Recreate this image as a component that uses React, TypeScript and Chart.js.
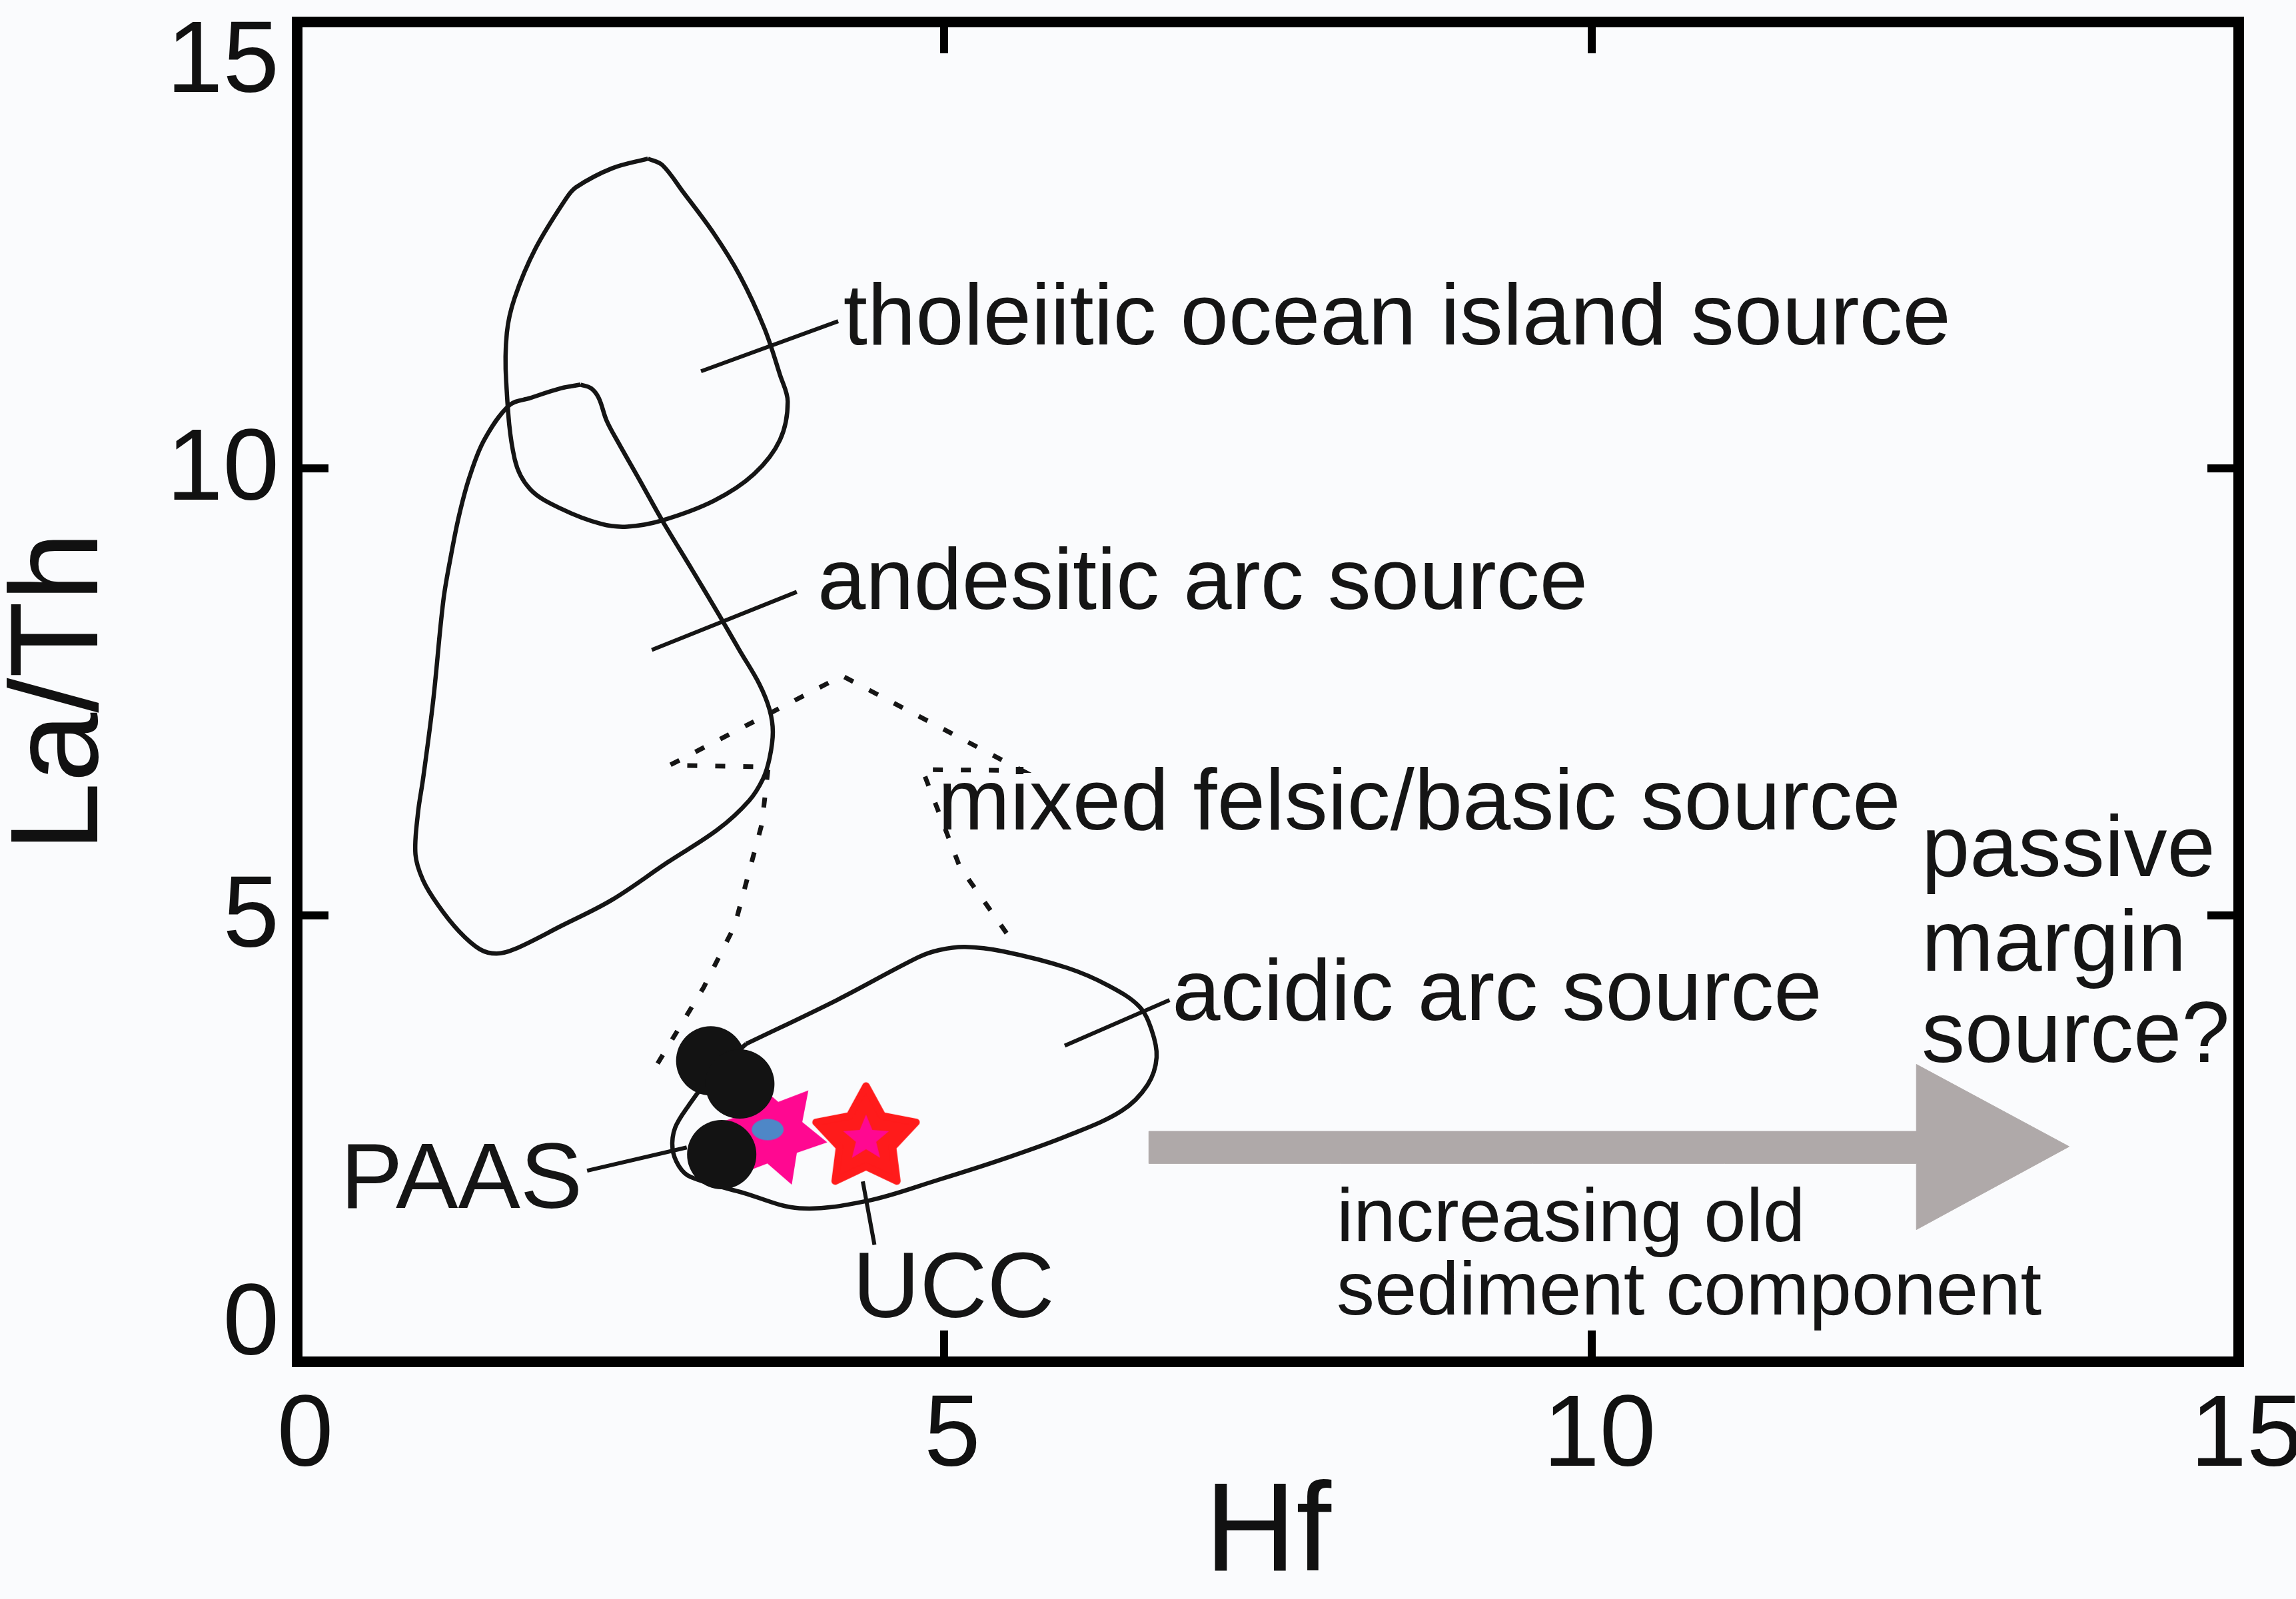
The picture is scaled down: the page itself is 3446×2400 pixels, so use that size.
import React, { useEffect, useRef } from 'react';
import { Chart, registerables } from 'chart.js';

Chart.register(...registerables);

// ---------------- DATA (Hf, La/Th) ----------------
const hfTicks = [0, 5, 10, 15];
const laThTicks = [0, 5, 10, 15];

// tholeiitic ocean island source field
const tholeiiticHf = [2.71, 2.43, 2.155, 2.076, 1.84, 1.68, 1.62, 1.615, 1.68, 1.80, 2.04, 2.35, 2.55, 2.82, 3.22, 3.53, 3.73, 3.79, 3.73, 3.61, 3.42, 3.22, 2.98, 2.82, 2.71];
const tholeiiticLaTh = [13.47, 13.36, 13.15, 13.02, 12.46, 11.91, 11.52, 10.97, 10.11, 9.77, 9.55, 9.38, 9.35, 9.42, 9.64, 9.94, 10.32, 10.75, 11.05, 11.57, 12.16, 12.63, 13.10, 13.40, 13.47];

// andesitic arc source field
const andesiticHf = [2.19, 2.27, 2.33, 2.39, 2.47, 2.65, 2.82, 3.05, 3.26, 3.42, 3.57, 3.65, 3.675, 3.65, 3.60, 3.49, 3.25, 2.86, 2.43, 2.04, 1.68, 1.54, 1.41, 1.25, 1.09, 0.973, 0.914, 0.933, 0.973, 1.05, 1.13, 1.19, 1.25, 1.33, 1.445, 1.64, 1.80, 2.04, 2.19];
const andesiticLaTh = [10.94, 10.90, 10.79, 10.54, 10.32, 9.86, 9.42, 8.87, 8.36, 7.96, 7.59, 7.30, 7.05, 6.76, 6.53, 6.28, 5.96, 5.59, 5.17, 4.88, 4.62, 4.57, 4.62, 4.82, 5.11, 5.39, 5.68, 6.14, 6.53, 7.39, 8.53, 9.04, 9.47, 9.90, 10.32, 10.71, 10.79, 10.90, 10.94];

// acidic arc source field
const acidicHf = [3.47, 4.17, 4.80, 4.96, 5.16, 5.455, 5.95, 6.27, 6.505, 6.60, 6.64, 6.57, 6.37, 5.95, 5.455, 4.96, 4.40, 3.88, 3.45, 3.04, 2.95, 2.90, 2.92, 3.02, 3.20, 3.47];
const acidicLaTh = [3.56, 4.05, 4.53, 4.61, 4.645, 4.595, 4.41, 4.21, 3.98, 3.72, 3.41, 3.10, 2.81, 2.53, 2.27, 2.04, 1.80, 1.72, 1.89, 2.07, 2.19, 2.39, 2.62, 2.86, 3.20, 3.56];

// mixed felsic/basic source (dashed)
const mixedHf = [2.785, 3.14, 3.38, 3.59, 3.64, 2.88, 4.21, 5.60, 4.83, 5.12, 5.49];
const mixedLaTh = [3.34, 4.19, 4.88, 6.02, 6.66, 6.68, 7.68, 6.62, 6.63, 5.54, 4.78];

// leader lines: start / end
const leaderStartHf = [3.12, 2.74, 5.93, 2.24, 4.37];
const leaderStartLaTh = [11.09, 7.97, 3.54, 2.14, 2.02];
const leaderEndHf = [4.18, 3.86, 6.74, 3.01, 4.46];
const leaderEndLaTh = [11.65, 8.62, 4.05, 2.40, 1.31];

// "increasing old sediment component" arrow outline
const arrowHf = [6.58, 12.51, 12.51, 13.69, 12.51, 12.51, 6.58, 6.58];
const arrowLaTh = [2.58, 2.58, 3.33, 2.41, 1.48, 2.22, 2.22, 2.58];

// samples
const blackSampleHf = [3.195, 3.42, 3.28];
const blackSampleLaTh = [3.37, 3.11, 2.32];
const pinkStarHf = [3.675];
const pinkStarLaTh = [2.565];
const blueSampleHf = [3.635];
const blueSampleLaTh = [2.60];
const uccHf = [4.395];
const uccLaTh = [2.515];

// annotations (left x, baseline y in data units)
const noteText = ['tholeiitic ocean island source', 'andesitic arc source', 'mixed felsic/basic source', 'acidic arc source', 'passive', 'margin', 'source?', 'PAAS', 'UCC', 'increasing old', 'sediment component'];
const noteHf = [4.22, 4.02, 4.95, 6.76, 12.55, 12.55, 12.55, 0.335, 4.29, 8.03, 8.03];
const noteLaTh = [11.39, 8.43, 5.96, 3.83, 5.44, 4.38, 3.36, 1.72, 0.50, 1.35, 0.53];

// ---------------- STYLE ----------------
const FONT = "'Liberation Sans', Arial, Helvetica, sans-serif";
const INK = '#151515';
const noteFontPx = [130, 130, 130, 130, 130, 130, 130, 140, 140, 114, 114];

const pts = (xs: number[], ys: number[]) => xs.map((x, i) => ({ x, y: ys[i] }));

function starPath(ctx: CanvasRenderingContext2D, cx: number, cy: number, n: number, R: number, r: number, rot: number) {
  ctx.beginPath();
  for (let i = 0; i < 2 * n; i++) {
    const rad = i % 2 === 0 ? R : r;
    const a = rot + (i * Math.PI) / n;
    const px = cx + rad * Math.cos(a);
    const py = cy + rad * Math.sin(a);
    if (i === 0) ctx.moveTo(px, py);
    else ctx.lineTo(px, py);
  }
  ctx.closePath();
}

function makePinkStar() {
  const c = document.createElement('canvas');
  c.width = 172; c.height = 172;
  const ctx = c.getContext('2d')!;
  starPath(ctx, 86, 86, 6, 83, 47, (-50 * Math.PI) / 180);
  ctx.fillStyle = '#FF0891';
  ctx.fill();
  return c;
}

function makeUccStar() {
  const c = document.createElement('canvas');
  c.width = 184; c.height = 184;
  const ctx = c.getContext('2d')!;
  starPath(ctx, 92, 94, 5, 79, 42, -Math.PI / 2);
  ctx.fillStyle = '#FF1B1B';
  ctx.fill();
  ctx.lineWidth = 11;
  ctx.lineJoin = 'round';
  ctx.strokeStyle = '#FF1B1B';
  ctx.stroke();
  starPath(ctx, 92, 94, 5, 36, 16, -Math.PI / 2);
  ctx.fillStyle = '#FF0891';
  ctx.fill();
  return c;
}

function makeBlueEllipse() {
  const c = document.createElement('canvas');
  c.width = 52; c.height = 36;
  const ctx = c.getContext('2d')!;
  ctx.beginPath();
  ctx.ellipse(26, 18, 24, 16, 0, 0, Math.PI * 2);
  ctx.fillStyle = '#4E87C7';
  ctx.fill();
  return c;
}

const bgPlugin = {
  id: 'bg',
  beforeDraw(chart: any) {
    const { ctx, width, height } = chart;
    ctx.save();
    ctx.fillStyle = '#FAFBFD';
    ctx.fillRect(0, 0, width, height);
    ctx.restore();
  },
};

const notesPlugin = {
  id: 'notes',
  afterDatasetsDraw(chart: any) {
    const { ctx, scales } = chart;
    const xs = scales.x;
    const ys = scales.y;
    ctx.save();
    ctx.fillStyle = INK;
    ctx.textAlign = 'left';
    ctx.textBaseline = 'alphabetic';
    noteText.forEach((t, i) => {
      ctx.font = `${noteFontPx[i]}px ${FONT}`;
      ctx.fillText(t, xs.getPixelForValue(noteHf[i]), ys.getPixelForValue(noteLaTh[i]));
    });
    ctx.restore();
  },
};

function axisFrame(extra: any) {
  return {
    type: 'linear',
    min: 0,
    max: 15,
    grid: {
      drawOnChartArea: false,
      drawTicks: true,
      tickLength: -47,
      tickWidth: 12,
      tickColor: '#000',
      lineWidth: 16,
      color: '#000',
    },
    border: { display: true, width: 16, color: '#000' },
    ...extra,
  };
}

export default function App() {
  const ref = useRef<HTMLCanvasElement>(null);

  useEffect(() => {
    const canvas = ref.current;
    if (!canvas) return;

    const outline = (xs: number[], ys: number[]) => ({
      data: pts(xs, ys),
      showLine: true,
      borderColor: INK,
      borderWidth: 6.5,
      tension: 0.35,
      pointRadius: 0,
      fill: false,
    });

    const layers: any[] = [
      {
        data: pts(arrowHf, arrowLaTh),
        showLine: true,
        borderColor: '#AFA9A9',
        backgroundColor: '#AFA9A9',
        borderWidth: 1,
        tension: 0,
        pointRadius: 0,
        fill: 'shape',
      },
      outline(tholeiiticHf, tholeiiticLaTh),
      outline(andesiticHf, andesiticLaTh),
      outline(acidicHf, acidicLaTh),
      {
        data: pts(mixedHf, mixedLaTh),
        showLine: true,
        borderColor: INK,
        borderWidth: 7,
        borderDash: [15, 27],
        borderCapStyle: 'butt',
        tension: 0,
        pointRadius: 0,
        fill: false,
      },
      ...leaderStartHf.map((_, i) => ({
        data: [
          { x: leaderStartHf[i], y: leaderStartLaTh[i] },
          { x: leaderEndHf[i], y: leaderEndLaTh[i] },
        ],
        showLine: true,
        borderColor: INK,
        borderWidth: 6,
        tension: 0,
        pointRadius: 0,
        fill: false,
      })),
      {
        data: pts(pinkStarHf, pinkStarLaTh),
        pointStyle: makePinkStar(),
        pointRadius: 80,
      },
      {
        data: pts(blackSampleHf, blackSampleLaTh),
        pointStyle: 'circle',
        pointRadius: 52,
        backgroundColor: '#131313',
        borderWidth: 0,
      },
      {
        data: pts(blueSampleHf, blueSampleLaTh),
        pointStyle: makeBlueEllipse(),
        pointRadius: 24,
      },
      {
        data: pts(uccHf, uccLaTh),
        pointStyle: makeUccStar(),
        pointRadius: 85,
      },
    ];
    const datasets = layers.map((d, i) => ({ ...d, order: layers.length - i }));

    const tickFont = { family: FONT, size: 152, lineHeight: 1 };

    const chart = new Chart(canvas, {
      type: 'scatter',
      data: { datasets },
      options: {
        animation: false,
        responsive: false,
        devicePixelRatio: 1,
        events: [],
        layout: { autoPadding: false, padding: { left: 0, right: 86, top: 33, bottom: 0 } },
        plugins: { legend: { display: false }, tooltip: { enabled: false } },
        scales: {
          x: axisFrame({
            position: 'bottom',
            afterBuildTicks: (s: any) => { s.ticks = hfTicks.map((v) => ({ value: v })); },
            afterFit: (s: any) => {
              s.height = 356;
              s.paddingLeft = 0; s.paddingRight = 0; s.paddingTop = 0; s.paddingBottom = 0;
            },
            ticks: {
              font: tickFont,
              color: '#111',
              padding: 85,
              labelOffset: 12,
              maxRotation: 0,
              autoSkip: false,
            },
            title: {
              display: true,
              text: 'Hf',
              color: '#111',
              font: { family: FONT, size: 190, lineHeight: 1 },
              padding: 0,
            },
          }),
          y: axisFrame({
            position: 'left',
            afterBuildTicks: (s: any) => { s.ticks = laThTicks.map((v) => ({ value: v })); },
            afterFit: (s: any) => {
              s.width = 446;
              s.paddingLeft = 0; s.paddingRight = 0; s.paddingTop = 0; s.paddingBottom = 0;
            },
            ticks: {
              font: { family: FONT, size: 152, lineHeight: 0.76 },
              color: '#111',
              padding: 74,
              labelOffset: 5,
              autoSkip: false,
              callback: (v: any) => (v === 15 ? ['', '15'] : v === 0 ? ['0', ''] : String(v)),
            },
            title: {
              display: true,
              text: 'La/Th',
              color: '#111',
              font: { family: FONT, size: 188, lineHeight: 1 },
              padding: 0,
            },
          }),
          x2: axisFrame({
            position: 'top',
            afterBuildTicks: (s: any) => { s.ticks = hfTicks.map((v) => ({ value: v })); },
            afterFit: (s: any) => {
              s.height = 0;
              s.paddingLeft = 0; s.paddingRight = 0; s.paddingTop = 0; s.paddingBottom = 0;
            },
            ticks: { display: false },
          }),
          y2: axisFrame({
            position: 'right',
            afterBuildTicks: (s: any) => { s.ticks = laThTicks.map((v) => ({ value: v })); },
            afterFit: (s: any) => {
              s.width = 0;
              s.paddingLeft = 0; s.paddingRight = 0; s.paddingTop = 0; s.paddingBottom = 0;
            },
            ticks: { display: false },
          }),
        },
      } as any,
      plugins: [bgPlugin, notesPlugin],
    });

    return () => chart.destroy();
  }, []);

  return (
    <div style={{ position: 'absolute', left: 0, top: 0, width: 3446, height: 2400, background: '#FAFBFD' }}>
      <canvas ref={ref} width={3446} height={2400} style={{ display: 'block', width: 3446, height: 2400 }} />
    </div>
  );
}
